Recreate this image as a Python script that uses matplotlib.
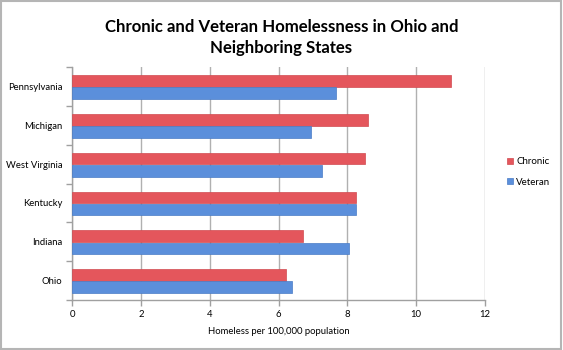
import numpy as np
import matplotlib.pyplot as plt

# data (bottom to top)
states = ['Ohio', 'Indiana', 'Kentucky', 'West Virginia', 'Michigan', 'Pennsylvania']
chronic = [6.22, 6.7, 8.26, 8.52, 8.6, 11.0]
veteran = [6.4, 8.05, 8.26, 7.27, 6.95, 7.67]
xticks = [0, 2, 4, 6, 8, 10, 12]

plt.rcParams['font.family'] = ['Lato', 'DejaVu Sans']

fig = plt.figure(figsize=(5.63, 3.5), dpi=100)
ax = fig.add_axes([72 / 563, 1 - 300 / 350, 413 / 563, 233 / 350])

y = np.arange(len(states))
h = 0.3
ax.barh(y + 0.14, chronic, height=h, color='#e4565c', edgecolor='#d04a50', linewidth=0.5,
        label='Chronic', zorder=3)
ax.barh(y - 0.17, veteran, height=h, color='#5b8fdb', edgecolor='#4a7cc6', linewidth=0.5,
        label='Veteran', zorder=3)

ax.set_xlim(0, 12)
ax.set_ylim(-0.5, len(states) - 0.5)
ax.set_xticks(xticks)
ax.set_xticklabels([str(t) for t in xticks], fontsize=6.8)
ax.set_yticks(y)
ax.set_yticklabels(states, fontsize=6.8)
ax.set_yticks(np.arange(-0.5, len(states), 1), minor=True)
ax.tick_params(axis='y', which='major', length=0, pad=7)
ax.tick_params(axis='y', which='minor', length=4, color='#a0a0a0', width=1)
ax.tick_params(axis='x', length=4, color='#a0a0a0', width=1, pad=3)
ax.xaxis.grid(True, color='#b0b0b0', linewidth=1)
ax.set_axisbelow(True)

for side in ['top', 'right']:
    ax.spines[side].set_visible(False)
for side in ['left', 'bottom']:
    ax.spines[side].set_color('#a0a0a0')
    ax.spines[side].set_linewidth(1)

ax.set_xlabel('Homeless per 100,000 population', fontsize=6.8, labelpad=6)

fig.suptitle('Chronic and Veteran Homelessness in Ohio and\nNeighboring States',
             fontsize=12.1, fontweight='bold', x=0.5, y=0.945, linespacing=1.35)

ax.legend(loc='center left', bbox_to_anchor=(1.045, 0.55), frameon=False, fontsize=7,
          handlelength=0.6, handleheight=0.6, handletextpad=0.3, labelspacing=1.2,
          borderaxespad=0)

# grey frame around the whole chart
fig.patches.append(plt.Rectangle((0.002, 0.004), 0.994, 0.992, transform=fig.transFigure,
                                 fill=False, edgecolor='#b5b5b5', linewidth=1.5))

fig.savefig('out.png', dpi=100)
